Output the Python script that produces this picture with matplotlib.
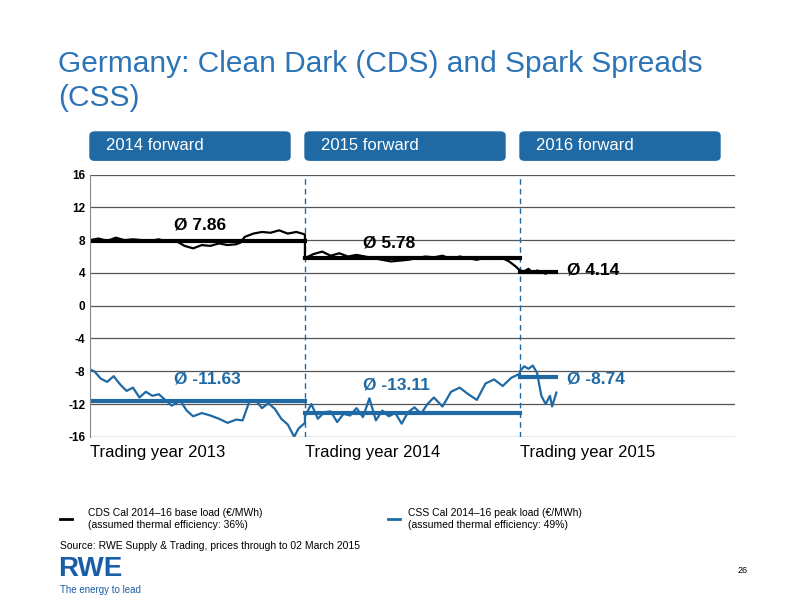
import numpy as np
import matplotlib.pyplot as plt
from matplotlib.patches import FancyBboxPatch

plt.rcParams["font.family"] = ["Liberation Sans", "DejaVu Sans"]
plt.rcParams["axes.unicode_minus"] = False

BLUE = "#1f6aa5"
TITLE_BLUE = "#2c74b5"

# x in trading years since start of 2013
cds_x = [0.00, 0.04, 0.08, 0.12, 0.16, 0.20, 0.24, 0.28, 0.32, 0.36, 0.40, 0.44, 0.48,
         0.52, 0.56, 0.60, 0.64, 0.68, 0.70, 0.72, 0.76, 0.80, 0.84, 0.88, 0.92, 0.96, 1.00,
         1.00, 1.04, 1.08, 1.12, 1.16, 1.20, 1.24, 1.28, 1.32, 1.36, 1.40, 1.44, 1.48,
         1.52, 1.56, 1.60, 1.64, 1.68, 1.72, 1.76, 1.80, 1.84, 1.88, 1.92, 1.95, 1.98, 2.00,
         2.00, 2.02, 2.04, 2.06, 2.08, 2.10, 2.12, 2.14, 2.17]
cds_y = [8.0, 8.2, 7.9, 8.3, 8.0, 8.1, 8.0, 7.9, 8.1, 7.8, 7.9, 7.3, 7.0,
         7.4, 7.3, 7.6, 7.4, 7.5, 7.7, 8.4, 8.8, 9.0, 8.9, 9.2, 8.8, 9.0, 8.7,
         5.8, 6.3, 6.6, 6.1, 6.4, 6.0, 6.2, 6.0, 5.8, 5.6, 5.4, 5.5, 5.6,
         5.8, 6.0, 5.9, 6.1, 5.7, 6.0, 5.8, 5.6, 5.9, 5.7, 5.8, 5.4, 4.8, 4.3,
         4.3, 4.2, 4.5, 4.0, 4.3, 4.1, 3.9, 4.2, 4.1]

css_x = [0.00, 0.02, 0.05, 0.08, 0.11, 0.14, 0.17, 0.20, 0.23, 0.26, 0.29, 0.32, 0.35,
         0.38, 0.42, 0.45, 0.48, 0.52, 0.56, 0.60, 0.64, 0.68, 0.71, 0.74, 0.77, 0.80,
         0.83, 0.86, 0.89, 0.92, 0.95, 0.97, 1.00,
         1.00, 1.03, 1.06, 1.09, 1.12, 1.15, 1.18, 1.21, 1.24, 1.27, 1.30, 1.33, 1.36,
         1.39, 1.42, 1.45, 1.48, 1.51, 1.54, 1.57, 1.60, 1.64, 1.68, 1.72, 1.76, 1.80,
         1.84, 1.88, 1.92, 1.96, 2.00,
         2.00, 2.02, 2.04, 2.06, 2.08, 2.10, 2.12, 2.14, 2.15, 2.17]
css_y = [-7.8, -8.0, -8.9, -9.3, -8.6, -9.6, -10.4, -10.0, -11.2, -10.5, -11.0, -10.8, -11.5,
         -12.2, -11.6, -12.8, -13.5, -13.1, -13.4, -13.8, -14.3, -13.9, -14.0, -11.8, -11.5,
         -12.5, -11.9, -12.6, -13.8, -14.5, -16.0, -15.0, -14.3,
         -13.5, -12.0, -13.8, -13.0, -12.9, -14.2, -13.2, -13.4, -12.5, -13.6, -11.3, -14.0,
         -12.8, -13.5, -13.1, -14.4, -13.0, -12.4, -13.2, -12.0, -11.2, -12.3, -10.5, -10.0,
         -10.8, -11.5, -9.5, -9.0, -9.8, -8.8, -8.3,
         -8.0, -7.4, -7.7, -7.3, -8.2, -11.0, -12.0, -11.0, -12.3, -10.6]

# yearly averages: (start, end, value)
cds_avg = [(0, 1, 7.86), (1, 2, 5.78), (2, 2.17, 4.14)]
css_avg = [(0, 1, -11.63), (1, 2, -13.11), (2, 2.17, -8.74)]
cds_labels = [(0.39, 9.9, "Ø 7.86"), (1.27, 7.6, "Ø 5.78"), (2.22, 4.4, "Ø 4.14")]
css_labels = [(0.39, -9.0, "Ø -11.63"), (1.27, -9.7, "Ø -13.11"), (2.22, -9.0, "Ø -8.74")]

years = ["Trading year 2013", "Trading year 2014", "Trading year 2015"]
headers = ["2014 forward", "2015 forward", "2016 forward"]

fig = plt.figure(figsize=(8, 6), dpi=100)
fig.text(0.073, 0.865, "Germany: Clean Dark (CDS) and Spark Spreads\n(CSS)",
         color=TITLE_BLUE, fontsize=21.5, va="center", linespacing=1.3)

ax = fig.add_axes([0.1125, 0.272, 0.806, 0.437])
ax.set_xlim(0, 3)
ax.set_ylim(-16, 16)
ax.set_yticks(range(-16, 17, 4))
for t in ax.get_yticklabels():
    t.set_fontweight("bold")
ax.tick_params(axis="y", length=0, labelsize=8.5)
ax.set_xticks([])
for s in ["top", "right", "bottom"]:
    ax.spines[s].set_visible(False)
ax.spines["left"].set_color("#888888")
for v in range(-16, 17, 4):
    ax.axhline(v, color="#555555", lw=0.9, zorder=0)

for xb in [1, 2]:
    ax.axvline(xb, color=BLUE, ls=(0, (4, 3)), lw=1)

ax.plot(cds_x, cds_y, color="black", lw=1.6)
ax.plot(css_x, css_y, color=BLUE, lw=1.6)
for a, b, v in cds_avg:
    ax.plot([a, b], [v, v], color="black", lw=3)
for a, b, v in css_avg:
    ax.plot([a, b], [v, v], color=BLUE, lw=3)
for x, y, s in cds_labels:
    ax.text(x, y, s, fontsize=12.5, fontweight="bold", va="center")
for x, y, s in css_labels:
    ax.text(x, y, s, fontsize=12.5, fontweight="bold", va="center", color=BLUE)

for i, s in enumerate(years):
    ax.text(i, -17.0, s, fontsize=12, va="top", ha="left")

for i, s in enumerate(headers):
    x0 = (90 + i * 215) / 800
    box = FancyBboxPatch((x0, 0.733), 200 / 800, 0.047,
                         boxstyle="round,pad=0,rounding_size=0.006",
                         transform=fig.transFigure, color=BLUE)
    fig.patches.append(box)
    fig.text(x0 + 0.02, 0.7575, s, color="white", fontsize=12, va="center")

# legend
fig.add_artist(plt.Line2D([0.075, 0.09], [0.135, 0.135], color="black", lw=2))
fig.text(0.11, 0.135, "CDS Cal 2014–16 base load (€/MWh)\n(assumed thermal efficiency: 36%)",
         fontsize=7.5, va="center")
fig.add_artist(plt.Line2D([0.485, 0.50], [0.135, 0.135], color=BLUE, lw=2))
fig.text(0.51, 0.135, "CSS Cal 2014–16 peak load (€/MWh)\n(assumed thermal efficiency: 49%)",
         fontsize=7.5, va="center")
fig.text(0.075, 0.085, "Source: RWE Supply & Trading, prices through to 02 March 2015", fontsize=7.5)
fig.text(0.935, 0.045, "26", fontsize=6.5, ha="right")
fig.text(0.073, 0.04, "RWE", fontsize=20, fontweight="bold", color="#1a5ea8")
fig.text(0.075, 0.012, "The energy to lead", fontsize=7, color="#1a5ea8")

fig.savefig("out.png", dpi=100)
